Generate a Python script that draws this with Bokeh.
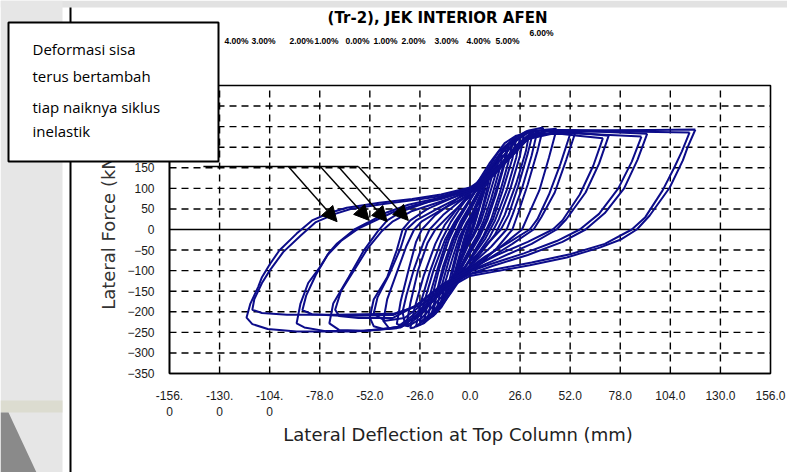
from math import pi
from bokeh.plotting import figure
from bokeh.models import (Range1d, FixedTicker, Label, BoxAnnotation, LinearAxis,
                          PolyAnnotation, Arrow, NormalHead)
from bokeh.embed import file_html
from bokeh.resources import INLINE

# ------------------------------------------------------------------ data
chart_title = "(Tr-2), JEK INTERIOR AFEN"
x_axis_title = "Lateral Deflection at Top Column (mm)"
y_axis_title = "Lateral Force (kN)"
note_lines = ["Deformasi sisa", "terus bertambah", "tiap naiknya siklus", "inelastik"]

x_ticks = [-156, -130, -104, -78, -52, -26, 0, 26, 52, 78, 104, 130, 156]
x_tick_labels = ["-156.\n0", "-130.\n0", "-104.\n0", "-78.0", "-52.0", "-26.0", "0.0",
                 "26.0", "52.0", "78.0", "104.0", "130.0", "156.0"]
y_ticks = [-350, -300, -250, -200, -150, -100, -50, 0, 50, 100, 150, 200, 250, 300, 350]
drift_labels = ["4.00%", "3.00%", "2.00%", "1.00%", "0.00%", "1.00%", "2.00%",
                "3.00%", "4.00%", "5.00%", "6.00%"]

# hysteresis cycles: lateral deflection (mm) / lateral force (kN)
c01_d = [4, 2.5, 1, 0, -2, -4, -2.5, -1, 0, 2, 4]
c01_f = [52, 25, 5, -8, -30, -55, -28, -6, 8, 30, 52]
c02_d = [8, 6, 3.5, 2, 0, -3, -8, -6, -3.5, -2, 0, 3, 8]
c02_f = [100, 70, 30, 8, -15, -50, -105, -72, -30, -8, 15, 50, 100]
c02b_d = [6, 4.5, 2.5, 0, -2.5, -6, -4.5, -2.5, 0, 2.5, 6]
c02b_f = [78, 50, 15, -20, -48, -80, -52, -15, 20, 48, 78]
c03_d = [12, 10, 7, 4.5, 2, 0, -4, -8, -12, -10, -7, -4.5, -2, 0, 4, 8, 12]
c03_f = [140, 105, 55, 15, -10, -28, -70, -115, -148, -110, -55, -15, 10, 28, 70, 110, 140]
c03b_d = [10, 8.5, 6, 3.5, 1, -2, -6, -10, -8.5, -6, -3.5, -1, 2, 6, 10]
c03b_f = [125, 92, 45, 8, -18, -45, -88, -128, -95, -48, -10, 18, 45, 88, 125]
c04_d = [17, 15, 11, 7, 4, 0, -5, -10, -14, -17, -15, -11, -7, -4, 0, 5, 10, 14, 17]
c04_f = [182, 140, 75, 20, -12, -45, -90, -135, -170, -188, -142, -75, -20, 12, 45, 90, 135, 168, 182]
c04b_d = [15, 13, 9, 5.5, 2, -2, -6, -11, -15, -13, -9, -5.5, -2, 2, 6, 11, 15]
c04b_f = [172, 130, 68, 18, -15, -45, -88, -135, -175, -130, -68, -18, 15, 45, 88, 135, 172]
c04c_d = [19, 17, 12.5, 8, 4.5, 0, -5, -11, -16, -19, -17, -12.5, -8, -4.5, 0, 5, 11, 16, 19]
c04c_f = [195, 150, 80, 20, -15, -52, -98, -150, -188, -200, -152, -80, -20, 15, 52, 98, 150, 185, 195]
c05_d = [22, 20, 15.5, 11, 7, 2, -3, -9, -15, -19, -22, -20, -16, -11, -7, -2, 3, 9, 15, 19, 22]
c05_f = [212, 165, 90, 25, -15, -55, -95, -145, -190, -210, -218, -170, -95, -25, 15, 55, 95, 145, 190, 205, 212]
c05b_d = [20, 18, 13.5, 9, 5, 0, -5, -11, -17, -20, -18, -14, -9, -5, 0, 5, 11, 17, 20]
c05b_f = [205, 160, 85, 22, -18, -58, -98, -148, -192, -208, -165, -90, -22, 18, 58, 98, 148, 192, 205]
c05c_d = [24, 22, 17, 12, 7, 1, -5, -12, -18, -22, -24, -22, -17, -12, -7, -1, 5, 12, 18, 22, 24]
c05c_f = [222, 172, 95, 25, -20, -65, -108, -160, -200, -218, -228, -178, -98, -25, 20, 65, 108, 160, 202, 218, 222]
c06_d = [28, 26, 21, 15, 10, 4, -2, -10, -18, -24, -28, -26, -21, -15, -10, -4, 2, 10, 18, 24, 28]
c06_f = [232, 180, 100, 25, -20, -60, -100, -155, -205, -228, -236, -185, -105, -28, 18, 60, 100, 160, 210, 228, 232]
c06b_d = [26, 24, 19, 13, 8, 2, -4, -12, -20, -26, -24, -19, -13, -8, -2, 4, 12, 20, 26]
c06b_f = [225, 175, 95, 22, -22, -62, -102, -158, -205, -225, -180, -100, -25, 18, 60, 102, 158, 205, 225]
c06c_d = [31, 29, 24, 18, 13, 6, -1, -9, -17, -24, -29, -31, -29, -24, -18, -13, -6, 1, 9, 17, 24, 29, 31]
c06c_f = [240, 190, 112, 35, -12, -55, -95, -140, -188, -222, -238, -240, -195, -112, -35, 12, 55, 95, 140, 190, 225, 238, 240]
c07_d = [38, 35, 30, 25, 22, 14, 5, -5, -15, -25, -32, -38, -36, -32, -28, -25, -18, -8, 2, 12, 22, 30, 38]
c07_f = [248, 190, 110, 40, 0, -45, -85, -120, -165, -215, -235, -230, -175, -100, -30, 0, 35, 70, 105, 160, 218, 240, 248]
c07b_d = [35, 32, 27, 22, 19, 11, 2, -8, -18, -27, -34, -35, -33, -29, -24, -21, -14, -5, 5, 15, 24, 30, 35]
c07b_f = [240, 180, 100, 35, 0, -42, -80, -118, -165, -212, -225, -200, -160, -95, -30, 0, 35, 70, 108, 165, 215, 235, 240]
c07c_d = [33, 30, 25, 20, 16, 8, 0, -8, -17, -25, -31, -33, -31, -27, -22, -18, -10, -2, 6, 14, 22, 28, 33]
c07c_f = [242, 185, 105, 35, 0, -40, -78, -115, -160, -205, -228, -232, -180, -100, -32, 0, 38, 72, 105, 158, 208, 232, 242]
c08_d = [55, 50, 44, 37, 33, 22, 10, 0, -12, -24, -35, -45, -50, -52, -50, -43, -38, -35, -31, -22, -10, 0, 10, 20, 28, 36, 45, 55]
c08_f = [240, 170, 90, 30, 0, -35, -70, -100, -140, -195, -235, -242, -235, -214, -170, -116, -50, 0, 22, 50, 75, 95, 130, 180, 220, 240, 240, 240]
c08b_d = [52, 47, 41, 35, 31, 20, 8, 0, -12, -24, -34, -44, -50, -48, -42, -36, -33, -28, -18, -8, 0, 10, 20, 28, 36, 45, 52]
c08b_f = [232, 160, 85, 25, 0, -32, -65, -92, -130, -180, -215, -222, -205, -165, -110, -45, 0, 22, 48, 72, 90, 128, 176, 215, 232, 232, 232]
c08c_d = [45, 41, 36, 30, 27, 17, 6, -4, -14, -25, -35, -42, -45, -43, -38, -33, -29, -25, -16, -6, 4, 14, 24, 33, 45]
c08c_f = [245, 175, 95, 32, 0, -38, -75, -110, -150, -200, -235, -240, -222, -170, -105, -40, 0, 20, 45, 70, 100, 145, 205, 240, 245]
c09_d = [72, 67, 60, 50, 45, 32, 15, 0, -14, -26, -38, -55, -68, -73, -71, -63, -55, -48, -43, -35, -20, 0, 12, 22, 30, 40, 55, 72]
c09_f = [228, 160, 90, 25, 0, -35, -70, -100, -140, -195, -238, -246, -244, -228, -180, -116, -50, -5, 22, 45, 70, 95, 135, 185, 225, 240, 236, 228]
c09b_d = [69, 64, 57, 48, 43, 30, 14, 0, -14, -28, -40, -58, -68, -70, -67, -60, -53, -46, -40, -30, -15, 0, 12, 22, 30, 42, 56, 69]
c09b_f = [222, 155, 85, 22, 0, -30, -62, -95, -132, -185, -215, -215, -210, -195, -150, -98, -45, -5, 20, 45, 68, 92, 130, 180, 220, 235, 228, 222]
c10_d = [92, 87, 80, 70, 60, 48, 30, 12, 0, -14, -26, -36, -55, -75, -86, -90, -88, -84, -78, -73, -69, -60,
         -53, -44, -32, -18, 0, 12, 22, 30, 42, 65, 92]
c10_f = [233, 170, 100, 40, 0, -30, -62, -88, -108, -145, -200, -238, -247, -247, -238, -228, -180, -130, -92, -55, -34, 0,
         17, 40, 60, 75, 98, 135, 185, 228, 242, 238, 233]
c10b_d = [89, 84, 77, 67, 57, 45, 28, 10, 0, -14, -28, -40, -65, -82, -87, -85, -80, -74, -67, -58, -50, -40,
          -28, -15, 0, 12, 22, 30, 45, 70, 89]
c10b_f = [226, 165, 100, 38, 0, -28, -58, -85, -102, -135, -185, -208, -210, -206, -196, -160, -110, -62, -28, 2, 20, 42,
          60, 74, 96, 132, 180, 220, 235, 230, 226]
c11_d = [117, 113, 110.5, 103.7, 93.3, 86.6, 78, 67.3, 50.2, 31, 12, 0, -14, -26, -38, -60, -90, -105, -113, -116,
         -114, -110, -108, -104, -99, -90, -82, -73, -64, -47, -30, -15, 0, 12, 22, 32, 45, 70, 95, 117]
c11_f = [243, 200, 168, 102, 34, 0, -25, -44, -68, -87, -103, -113, -150, -205, -240, -248, -248, -242, -230, -214,
         -180, -140, -116, -85, -51, -10, 22, 40, 53, 65, 74, 85, 102, 140, 190, 232, 242, 241, 242, 243]
c11b_d = [114, 110, 106, 100, 91, 84, 70, 52, 32, 12, 0, -14, -26, -40, -70, -95, -108, -113, -112, -108, -104,
          -97, -88, -80, -70, -62, -45, -28, -14, 0, 12, 22, 32, 48, 80, 114]
c11b_f = [236, 190, 150, 95, 30, 0, -35, -60, -80, -98, -108, -140, -185, -205, -207, -207, -203, -195, -170, -130, -100,
          -55, -15, 18, 38, 50, 62, 72, 82, 100, 138, 185, 228, 238, 238, 236]

cycles_d = [c01_d, c02_d, c02b_d, c03_d, c03b_d, c04_d, c04b_d, c04c_d, c05_d, c05b_d, c05c_d,
            c06_d, c06b_d, c06c_d, c07_d, c07b_d, c07c_d, c08_d, c08b_d, c08c_d,
            c09_d, c09b_d, c10_d, c10b_d, c11_d, c11b_d]
cycles_f = [c01_f, c02_f, c02b_f, c03_f, c03b_f, c04_f, c04b_f, c04c_f, c05_f, c05b_f, c05c_f,
            c06_f, c06b_f, c06c_f, c07_f, c07b_f, c07c_f, c08_f, c08b_f, c08c_f,
            c09_f, c09b_f, c10_f, c10b_f, c11_f, c11b_f]

# annotation: leader line and arrows pointing at residual deformation (mm, kN)
leader_x = [-138.4, -58.0]
leader_y = 153
arrow_start_x = [-94.3, -77.7, -68.4, -58.0]
arrow_end_x = [-69.0, -52.3, -43.0, -32.0]
arrow_end_y = [19, 22, 19, 22]

# ------------------------------------------------------------------ layout
W, H = 787, 472
FL, FR, FT, FB = 169, 770, 85, 373          # chart frame in page pixels
X0, X1, Y0, Y1 = -156, 156, -350, 350
kx = (X1 - X0) / (FR - FL)
ky = (Y1 - Y0) / (FB - FT)

SANS = "Liberation Sans"
LABEL_FONT = "DejaVu Sans"
NOTE_FONT = "Open Sans"
CURVE = "#0c0c8a"

# page-pixel default ranges (y downward); chart data on its own ranges
p = figure(width=W, height=H, x_range=Range1d(0, W), y_range=Range1d(H, 0),
           x_axis_type=None, y_axis_type=None, min_border=0,
           output_backend="svg", toolbar_location=None)
p.extra_x_ranges = {"mm": Range1d(X0 - FL * kx, X1 + (W - FR) * kx)}
p.extra_y_ranges = {"kN": Range1d(Y0 - (H - FB) * ky, Y1 + FT * ky)}
p.background_fill_color = "white"
p.border_fill_color = "white"
p.outline_line_color = None
MM = dict(x_range_name="mm", y_range_name="kN")

# page decoration (scanned slide look), page pixels
p.add_layout(BoxAnnotation(left=0, right=W, top=0, bottom=7, fill_color="#e2e2e2",
                           fill_alpha=1, line_color=None, level="image"))
p.add_layout(BoxAnnotation(left=0, right=62, top=0, bottom=H, fill_color="#e6e6e6",
                           fill_alpha=1, line_color=None, level="image"))
p.add_layout(BoxAnnotation(left=0, right=62, top=400, bottom=412, fill_color="#dcdcd0",
                           fill_alpha=1, line_color=None, level="image"))
p.add_layout(PolyAnnotation(xs=[0, 8, 36, 0], ys=[412, 412, H, H], fill_color="#8a8a8a",
                            fill_alpha=1, line_color=None, level="image"))
p.add_layout(BoxAnnotation(left=69, right=71, top=7, bottom=H, fill_color="black",
                           fill_alpha=1, line_color=None, level="image"))

# axes at the chart edges
xax = LinearAxis(ticker=FixedTicker(ticks=x_ticks), fixed_location=Y0, bounds=(X0, X1), **MM)
xax.major_label_overrides = {t: l for t, l in zip(x_ticks, x_tick_labels)}
yax = LinearAxis(ticker=FixedTicker(ticks=y_ticks), fixed_location=X0, bounds=(Y0, Y1), **MM)
for ax in (xax, yax):
    ax.major_tick_line_color = None
    ax.minor_tick_line_color = None
    ax.axis_line_color = "black"
    ax.axis_line_width = 1.6
    ax.major_label_text_font = SANS
    ax.major_label_text_font_size = "12px"
    ax.major_label_text_color = "#1a1a1a"
    ax.major_label_standoff = 9
p.add_layout(xax, "below")
p.add_layout(yax, "left")

# dashed grid at the tick positions
gx = [t for t in x_ticks if t not in (X0, X1, 0)]
gy = [t for t in y_ticks if t not in (Y0, Y1, 0)]
p.segment(x0=gx, y0=[Y0] * len(gx), x1=gx, y1=[Y1] * len(gx), line_color="black",
          line_dash="7 5", line_width=1.4, **MM)
p.segment(x0=[X0] * len(gy), y0=gy, x1=[X1] * len(gy), y1=gy, line_color="black",
          line_dash="7 5", line_width=1.4, **MM)
p.segment(x0=[0, X0], y0=[Y0, 0], x1=[0, X1], y1=[Y1, 0], line_color="black",
          line_width=1.6, **MM)
p.add_layout(BoxAnnotation(left=X0, right=X1, bottom=Y0, top=Y1, fill_color=None,
                           line_color="black", line_alpha=1, line_width=1.6, **MM))

# hysteresis curves
p.multi_line(xs=cycles_d, ys=cycles_f, line_color=CURVE, line_width=2.0, **MM)

# axis titles
p.add_layout(Label(x=(FL + FR) / 2 - 12, y=434, text=x_axis_title, text_align="center",
                   text_baseline="middle", text_font=LABEL_FONT, text_font_size="18px",
                   text_color="#222222"))
p.add_layout(Label(x=108, y=(FT + FB) / 2, text=y_axis_title, angle=pi / 2,
                   text_align="center", text_baseline="middle", text_font=LABEL_FONT,
                   text_font_size="18px", text_color="#333333"))

# chart title and drift row
p.add_layout(Label(x=437, y=17, text=chart_title, text_align="center",
                   text_baseline="middle", text_font=LABEL_FONT, text_font_style="bold",
                   text_font_size="15px", text_color="black"))
drift_px = [236, 263, 301, 326, 357, 385, 413, 446, 478, 507, 541]
drift_py = [40, 40, 40, 40, 40, 40, 40, 40, 40, 40, 32]
for t, px, py in zip(drift_labels, drift_px, drift_py):
    p.add_layout(Label(x=px, y=py, text=t, text_align="center", text_baseline="middle",
                       text_font=SANS, text_font_style="bold", text_font_size="8.5px",
                       text_color="black"))

# leader and arrows
p.segment(x0=[leader_x[0]], y0=[leader_y], x1=[leader_x[1]], y1=[leader_y],
          line_color="black", line_width=1.6, **MM)
for xs, xe, ye in zip(arrow_start_x, arrow_end_x, arrow_end_y):
    p.add_layout(Arrow(x_start=xs, y_start=leader_y, x_end=xe, y_end=ye,
                       line_color="black", line_width=1.4,
                       end=NormalHead(size=15, fill_color="black", line_color="black"), **MM))

# note box
p.add_layout(BoxAnnotation(left=8, right=218, top=22, bottom=161, fill_color="white",
                           fill_alpha=1, line_color="black", line_alpha=1, line_width=2,
                           level="overlay"))
note_py = [48, 75, 106, 130]
for t, py in zip(note_lines, note_py):
    p.add_layout(Label(x=32, y=py, text=t, text_align="left", text_baseline="middle",
                       text_font=NOTE_FONT, text_font_size="15px", text_color="black",
                       level="overlay"))

open("out.html", "w").write(file_html(p, INLINE))
